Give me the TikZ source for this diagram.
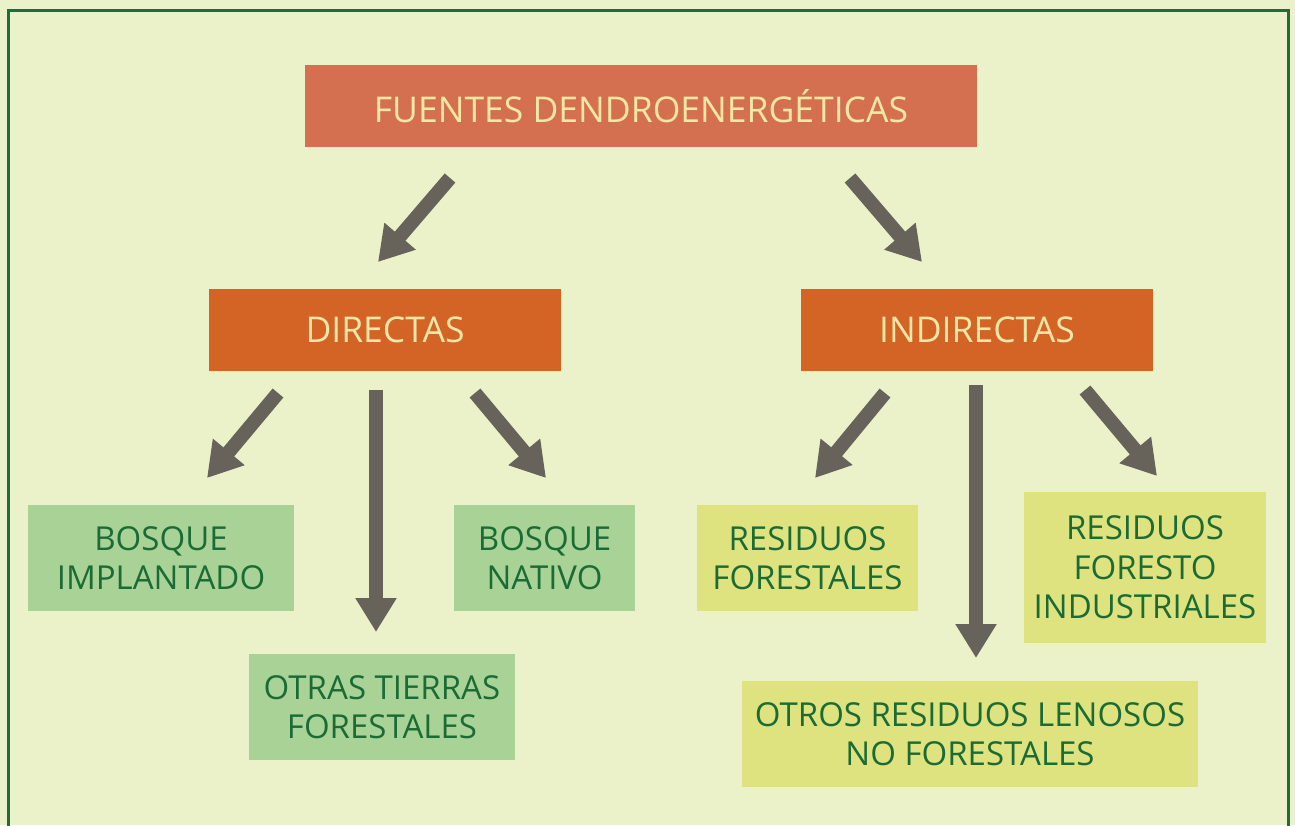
\documentclass[tikz,border=0pt]{standalone}
\usepackage{fontspec}
\setmainfont{Open Sans}
\usetikzlibrary{arrows.meta}
\definecolor{bg}{HTML}{EBF2CA}
\definecolor{frame}{HTML}{1F6E3A}
\definecolor{topc}{HTML}{D4704F}
\definecolor{midc}{HTML}{D36426}
\definecolor{lighttxt}{HTML}{F2E7A6}
\definecolor{greenbox}{HTML}{A9D396}
\definecolor{yellowbox}{HTML}{DEE27F}
\definecolor{greentxt}{HTML}{1B6B35}
\definecolor{arrowc}{HTML}{67625A}
\tikzset{
  orangebox/.style={fill=midc, text=lighttxt, inner sep=0pt, minimum height=82pt, align=center, font=\fontsize{35.5}{40}\selectfont},
  leafg/.style={fill=greenbox, text=greentxt, inner sep=0pt, minimum height=106pt, align=center, font=\fontsize{33}{39.5}\selectfont},
  leafy/.style={fill=yellowbox, text=greentxt, inner sep=0pt, minimum height=106pt, align=center, font=\fontsize{33}{39.5}\selectfont},
  bigarrow/.style={draw=arrowc, line width=14pt, -{Triangle[length=34pt,width=39pt]}, arrowc}
}
\begin{document}
\begin{tikzpicture}[x=1pt,y=-1pt]
\useasboundingbox (0,0) rectangle (1295,825);
\fill[bg] (0,0) rectangle (1295,825);
\begin{scope}
\clip (0,0) rectangle (1295,825);
\draw[frame, line width=3.5pt] (8.5,860) -- (8.5,10.5) -- (1288.5,10.5) -- (1288.5,860);
\end{scope}

\node[orangebox, fill=topc, minimum width=672pt] (top) at (641,106) {FUENTES DENDROENERGÉTICAS};
\node[orangebox, minimum width=352pt] (dir) at (385,330) {DIRECTAS};
\node[orangebox, minimum width=352pt] (ind) at (977,330) {INDIRECTAS};

\node[leafg, minimum width=266pt] (bi) at (161,558) {BOSQUE\\IMPLANTADO};
\node[leafg, minimum width=181pt] (bn) at (544.5,558) {BOSQUE\\NATIVO};
\node[leafg, minimum width=266pt] (ot) at (382,707) {OTRAS TIERRAS\\FORESTALES};
\node[leafy, minimum width=221pt] (rf) at (807.5,558) {RESIDUOS\\FORESTALES};
\node[leafy, minimum width=242pt, minimum height=151pt] (rfi) at (1145,567.5) {RESIDUOS\\FORESTO\\INDUSTRIALES};
\node[leafy, minimum width=456pt] (orl) at (970,734) {OTROS RESIDUOS LENOSOS\\NO FORESTALES};

\coordinate (a1s) at (450,178);
\coordinate (a1e) at (378,262);
\coordinate (a2s) at (850,178);
\coordinate (a2e) at (922,262);
\coordinate (a3s) at (278,393);
\coordinate (a3e) at (207,478);
\coordinate (a4s) at (376,390);
\coordinate (a4e) at (376,632);
\coordinate (a5s) at (475,393);
\coordinate (a5e) at (546,478);
\coordinate (a6s) at (885,393);
\coordinate (a6e) at (815,478);
\coordinate (a7s) at (976,385);
\coordinate (a7e) at (976,658);
\coordinate (a8s) at (1085,390);
\coordinate (a8e) at (1157,476);

\draw[bigarrow] (a1s) -- (a1e);
\draw[bigarrow] (a2s) -- (a2e);
\draw[bigarrow] (a3s) -- (a3e);
\draw[bigarrow] (a4s) -- (a4e);
\draw[bigarrow] (a5s) -- (a5e);
\draw[bigarrow] (a6s) -- (a6e);
\draw[bigarrow] (a7s) -- (a7e);
\draw[bigarrow] (a8s) -- (a8e);
\end{tikzpicture}
\end{document}
